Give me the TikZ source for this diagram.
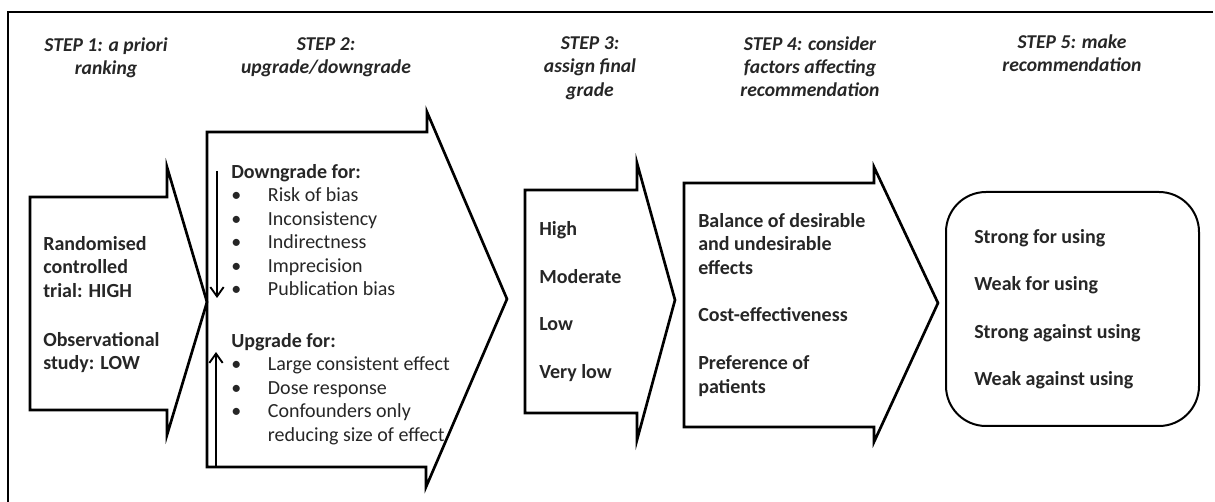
\documentclass[tikz,border=0pt]{standalone}
\usepackage{fontspec}
\setmainfont{Carlito}
\usetikzlibrary{arrows.meta}

\begin{document}
\begin{tikzpicture}[x=0.75pt,y=0.75pt,yscale=-1,xscale=1,
  stepshape/.style={line width=2pt},
  boxtext/.style={anchor=north west,inner sep=0.75pt,align=left,text=black!85,
    font=\fontsize{15}{17.6}\selectfont},
  headtext/.style={anchor=north,inner sep=0.75pt,align=center,text=black!85,
    font=\fontsize{14.7}{17.6}\selectfont\bfseries\itshape},
  gradearrow/.style={line width=1.4pt,-{Straight Barb[length=7pt,width=10pt]}}]

\useasboundingbox (0,0) rectangle (1215,502);

% frame
\draw [line width=2pt] (1213,12) -- (8,12) -- (8,502) ;

% step shapes
\draw [stepshape] (30,197) -- (167,197) -- (167,167) -- (207,302) -- (167,435) -- (167,410) -- (30,410) -- cycle ;
\draw [stepshape] (207,132) -- (427,132) -- (427,112) -- (507,299) -- (426,487) -- (426,467) -- (207,467) -- cycle ;
\draw [stepshape] (525,190) -- (637,190) -- (637,163) -- (675,300) -- (637,440) -- (637,413) -- (525,413) -- cycle ;
\draw [stepshape] (684,183) -- (874,183) -- (874,167) -- (938,303) -- (874,442) -- (874,427) -- (684,427) -- cycle ;
\draw [line width=1.5pt, rounded corners=30pt] (946,192) rectangle (1199,426) ;

% headings
\draw (106,36) node (head1) [headtext] {STEP 1: a priori\\ranking};
\draw (326,36) node (head2) [headtext] {STEP 2:\\upgrade/downgrade};
\draw (590,35) node (head3) [headtext] {STEP 3:\\assign final\\grade};
\draw (810,35) node (head4) [headtext] {STEP 4: consider\\factors affecting\\recommendation};
\draw (1072,33) node (head5) [headtext] {STEP 5: make\\recommendation};

% step 1
\draw (42,235) node (ranking) [boxtext] {\bfseries Randomised\\\bfseries controlled\\\bfseries trial: HIGH\\[19pt]\bfseries Observational\\\bfseries study: LOW};

% step 2
\draw (230,163) node (down) [boxtext] {\bfseries Downgrade for:\\
\makebox[27.5pt][l]{\textbullet}Risk of bias\\
\makebox[27.5pt][l]{\textbullet}Inconsistency\\
\makebox[27.5pt][l]{\textbullet}Indirectness\\
\makebox[27.5pt][l]{\textbullet}Imprecision\\
\makebox[27.5pt][l]{\textbullet}Publication bias};
\draw (230,332) node (up) [boxtext] {\bfseries Upgrade for:\\
\makebox[27.5pt][l]{\textbullet}Large consistent effect\\
\makebox[27.5pt][l]{\textbullet}Dose response\\
\makebox[27.5pt][l]{\textbullet}Confounders only\\
\makebox[27.5pt][l]{}reducing size of effect};

\coordinate (downstart) at (217,171);
\coordinate (downend) at (217,298);
\coordinate (upstart) at (216,467);
\coordinate (upend) at (216,352);
\draw [gradearrow] (downstart) -- (downend) ;
\draw [gradearrow] (upstart) -- (upend) ;

% step 3
\draw (538,220) node (grade) [boxtext] {\bfseries High\\[18.2pt]\bfseries Moderate\\[18.2pt]\bfseries Low\\[18.2pt]\bfseries Very low};

% step 4
\draw (697,212) node (factors) [boxtext] {\bfseries Balance of desirable\\\bfseries and undesirable\\\bfseries effects\\[18.2pt]\bfseries Cost-effectiveness\\[18.2pt]\bfseries Preference of\\\bfseries patients};

% step 5
\draw (973,228) node (recommend) [boxtext] {\bfseries Strong for using\\[18pt]\bfseries Weak for using\\[18pt]\bfseries Strong against using\\[18pt]\bfseries Weak against using};

\end{tikzpicture}
\end{document}
